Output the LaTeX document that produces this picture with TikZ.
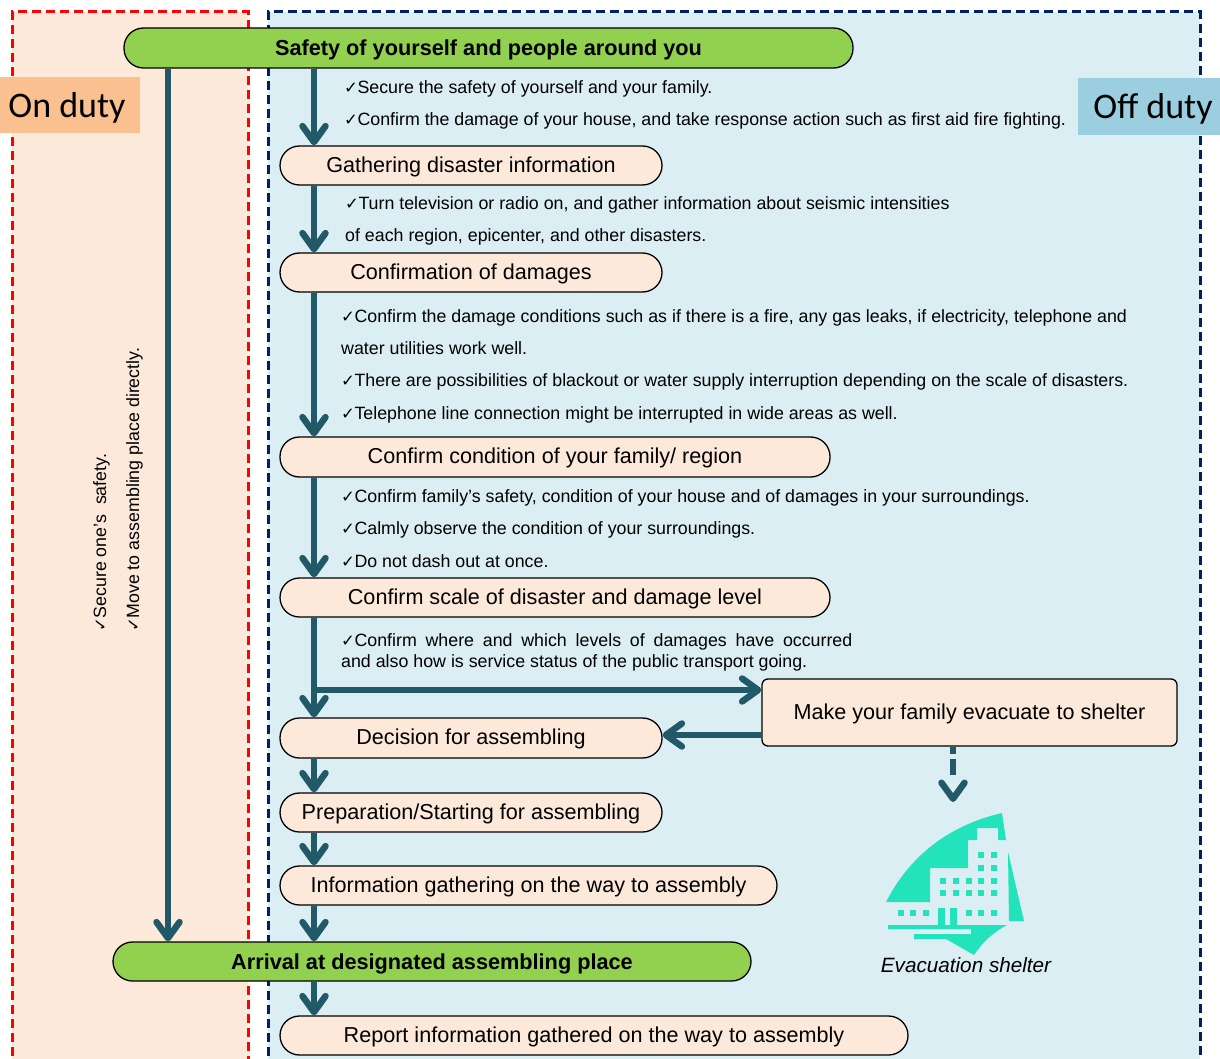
\documentclass[tikz,border=0pt]{standalone}
\usepackage{fontspec}
\usetikzlibrary{arrows.meta}
\setmainfont{Liberation Sans}
\newfontfamily\tickfont{DejaVu Sans}
\newfontfamily\carlfont{Carlito}
\newcommand{\ck}{{\tickfont\fontsize{16.5}{16}\selectfont ✓}\kern-0.5pt}
\definecolor{arrowc}{HTML}{215968}
\definecolor{greenc}{HTML}{92D050}
\definecolor{peach}{HTML}{FDE9D9}
\definecolor{skyc}{HTML}{DBEEF4}
\definecolor{onc}{HTML}{FAC090}
\definecolor{offc}{HTML}{9BCFE0}
\definecolor{navyc}{HTML}{002060}
\definecolor{shelterc}{HTML}{22E3BB}
\tikzset{
 pill/.style={draw=black,line width=1.3pt,fill=peach,rounded corners=19.5pt,inner sep=0pt,font=\fontsize{21.6}{24}\selectfont,align=center,text depth=2pt},
 gpill/.style={pill,fill=greenc,font=\fontsize{21.7}{24}\selectfont\bfseries,text depth=0.5pt},
 note/.style={inner sep=0pt,anchor=base west,font=\fontsize{17.8}{20}\selectfont},
 flow/.style={draw=arrowc,line width=5.5pt,-{Straight Barb[round,length=16pt,width=23pt,line width=6.5pt]}},
 tag/.style={inner sep=0pt,font=\carlfont\fontsize{36}{38}\selectfont},
 win/.style={fill=shelterc,draw=none},
}
\newcommand{\pillnode}[6]{\node[#1,minimum width=#4pt-#3pt,minimum height=#6pt-#5pt] (#2) at ({(#3+#4)/2},{(#5+#6)/2})}
\begin{document}
\begin{tikzpicture}[x=1pt,y=-1pt]
\useasboundingbox (0,0) rectangle (1220,1059);
\begin{scope}
\clip (0,0) rectangle (1220,1059);
\fill[peach] (12,12) rectangle (248,1070);
\fill[skyc] (268,12) rectangle (1200,1070);
\draw[red,line width=3pt,dash pattern=on 9pt off 5pt] (12,1070) -- (12,12) -- (248,12) -- (248,1070);
\draw[navyc,line width=3pt,dash pattern=on 9pt off 5pt] (268,1070) -- (268,12) -- (1200,12) -- (1200,1070);
\end{scope}
\node[tag,fill=onc,minimum width=140pt,minimum height=56pt,text height=26pt,text depth=0pt] (onduty) at (70,105) {\kern-6pt On duty};
\node[tag,fill=offc,minimum width=142pt,minimum height=57pt,text height=26pt,text depth=2pt] (offduty) at (1149,106.5) {\kern8pt Off duty};

\pillnode{gpill}{safety}{124}{853}{28}{68}{Safety of yourself and people around you};
\pillnode{pill}{gather}{280}{662}{146}{185}{Gathering disaster information};
\pillnode{pill}{confirm}{280}{662}{253}{292}{Confirmation of damages};
\pillnode{pill}{family}{280}{830}{437}{477}{Confirm condition of your family/ region};
\pillnode{pill}{scale}{280}{830}{578}{617}{Confirm scale of disaster and damage level};
\pillnode{pill}{decision}{280}{662}{718}{758}{Decision for assembling};
\pillnode{pill}{prep}{280}{662}{793}{832}{Preparation/Starting for assembling};
\pillnode{pill}{info}{280}{777}{866}{905}{Information gathering on the way to assembly};
\pillnode{gpill}{arrival}{113}{751}{942}{981}{Arrival at designated assembling place};
\pillnode{pill}{report}{280}{908}{1016}{1055}{Report information gathered on the way to assembly};
\pillnode{pill,rounded corners=6pt}{make}{762}{1177}{679}{746}{Make your family evacuate to shelter};

\coordinate (xa) at (314,0);
\coordinate (xb) at (168,0);
\coordinate (fork) at (314,690);
\coordinate (dashend) at (953,802);
\coordinate (makeout) at (762,735);
\draw[flow] (safety.south -| xa) -- (gather.north -| xa);
\draw[flow] (gather.south -| xa) -- (confirm.north -| xa);
\draw[flow] (confirm.south -| xa) -- (family.north -| xa);
\draw[flow] (family.south -| xa) -- (scale.north -| xa);
\draw[flow] (scale.south -| xa) -- (decision.north -| xa);
\draw[flow] (decision.south -| xa) -- (prep.north -| xa);
\draw[flow] (prep.south -| xa) -- (info.north -| xa);
\draw[flow] (info.south -| xa) -- (arrival.north -| xa);
\draw[flow] (arrival.south -| xa) -- (report.north -| xa);
\draw[flow] (safety.south -| xb) -- (arrival.north -| xb);
\draw[flow] (fork) -- (fork -| make.west);
\draw[flow] (makeout) -- (makeout -| decision.east);
\draw[flow,dash pattern=on 7pt off 5pt on 16pt off 40pt] (make.south -| dashend) -- (dashend);

\node[note] (n1) at (344,94) {\ck Secure the safety of yourself and your family.};
\node[note] (n2) at (344,126) {\ck Confirm the damage of your house, and take response action such as first aid fire fighting.};
\node[note] (n3) at (345,210) {\ck Turn television or radio on, and gather information about seismic intensities};
\node[note] (n4) at (345,242) {of each region, epicenter, and other disasters.};
\node[note] (n5) at (341,322) {\ck Confirm the damage conditions such as if there is a fire, any gas leaks, if electricity, telephone and};
\node[note] (n6) at (341,354) {water utilities work well.};
\node[note] (n7) at (341,386) {\ck There are possibilities of blackout or water supply interruption depending on the scale of disasters.};
\node[note] (n8) at (341,419) {\ck Telephone line connection might be interrupted in wide areas as well.};
\node[note] (n9) at (341,502) {\ck Confirm family’s safety, condition of your house and of damages in your surroundings.};
\node[note] (n10) at (341,534) {\ck Calmly observe the condition of your surroundings.};
\node[note] (n11) at (341,567) {\ck Do not dash out at once.};
\node[note] (n12) at (341,646) {\spaceskip=8.8pt\ck Confirm where and which levels of damages have occurred};
\node[note] (n13) at (341,667) {and also how is service status of the public transport going.};
\node[note,rotate=90] (n14) at (106,632) {\ck Secure one's\hspace{5pt} safety.};
\node[note,rotate=90] (n15) at (139,632) {\ck Move to assembling place directly.};

% shelter icon
\fill[shelterc] (886,902) .. controls (910,855) and (950,825) .. (1002,813) -- (1006,840) -- (998,840) -- (998,828) -- (977,828) -- (977,840) -- (968,840) -- (968,868) -- (930,868) -- (930,902) -- cycle;
\fill[shelterc] (1008,852) -- (1024,921) -- (1009,921) -- cycle;
\fill[shelterc] (888,925) -- (1007,925) .. controls (992,933) and (982,943) .. (974,955) -- (946,939) -- (914,939) -- (914,934) -- (971,934) -- (971,929) -- (888,929) -- cycle;
\fill[shelterc] (938,908) rectangle (945,925);
\fill[shelterc] (950,908) rectangle (957,925);
\foreach \wx/\wy in {981.3/854.7,994/854.7,981.3/868,994/868,
 943/881.3,955.7/881.3,968.7/881.3,981.3/881.3,994/881.3,
 943/893.3,955.7/893.3,968.7/893.3,981.3/893.3,994/893.3,
 900.7/913.3,913/913.3,925.7/913.3,968.7/913.3,981.3/913.3,994/913.3}
 \fill[win] (\wx-3,\wy-3) rectangle (\wx+3,\wy+3);
\node[inner sep=0pt,anchor=base,font=\itshape\fontsize{20.7}{22}\selectfont] (shelterlabel) at (966,972) {Evacuation shelter};
\end{tikzpicture}
\end{document}
